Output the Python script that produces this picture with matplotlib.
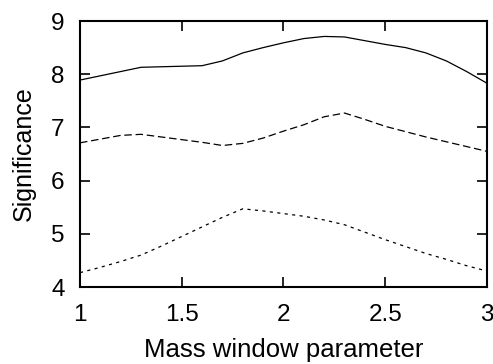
import matplotlib
matplotlib.use("Agg")
import matplotlib.pyplot as plt

x = [1.0, 1.1, 1.2, 1.3, 1.4, 1.5, 1.6, 1.7, 1.8, 1.9, 2.0,
     2.1, 2.2, 2.3, 2.4, 2.5, 2.6, 2.7, 2.8, 2.9, 3.0]
solid = [7.89, 7.97, 8.05, 8.13, 8.14, 8.15, 8.16, 8.25, 8.40, 8.50, 8.59,
         8.67, 8.71, 8.70, 8.63, 8.56, 8.50, 8.40, 8.25, 8.05, 7.83]
dashed = [6.71, 6.78, 6.85, 6.87, 6.82, 6.77, 6.72, 6.66, 6.70, 6.80, 6.93,
          7.05, 7.20, 7.27, 7.15, 7.02, 6.92, 6.82, 6.73, 6.64, 6.55]
dotted = [4.27, 4.37, 4.48, 4.60, 4.77, 4.95, 5.13, 5.31, 5.47, 5.43, 5.38,
          5.33, 5.26, 5.17, 5.03, 4.89, 4.76, 4.63, 4.52, 4.40, 4.30]
xticks = [1, 1.5, 2, 2.5, 3]
xtick_labels = ["1", "1.5", "2", "2.5", "3"]
yticks = [4, 5, 6, 7, 8, 9]

plt.rcParams['font.family'] = ['Liberation Sans', 'DejaVu Sans']
fig = plt.figure(figsize=(4.93, 3.64), dpi=100)
ax = fig.add_axes([0.1623, 0.2115, 0.8255, 0.7308])
ax.plot(x, solid, color='black', lw=0.9, ls='-')
ax.plot(x, dashed, color='black', lw=0.9, ls=(0, (6, 3)))
ax.plot(x, dotted, color='black', lw=0.9, ls=(0, (2.5, 3.5)))
ax.set_xlim(1, 3)
ax.set_ylim(4, 9)
ax.set_xticks(xticks)
ax.set_xticklabels(xtick_labels)
ax.set_yticks(yticks)
ax.tick_params(direction='in', length=7, width=1.2, top=True, right=True,
               labelsize=17.5)
ax.tick_params(axis='x', pad=12)
ax.tick_params(axis='y', pad=11)
for s in ax.spines.values():
    s.set_linewidth(1.5)
ax.set_xlabel("Mass window parameter", fontsize=18.5, labelpad=9)
ax.set_ylabel("Significance", fontsize=18, labelpad=11)
fig.savefig("out.png", dpi=100)
